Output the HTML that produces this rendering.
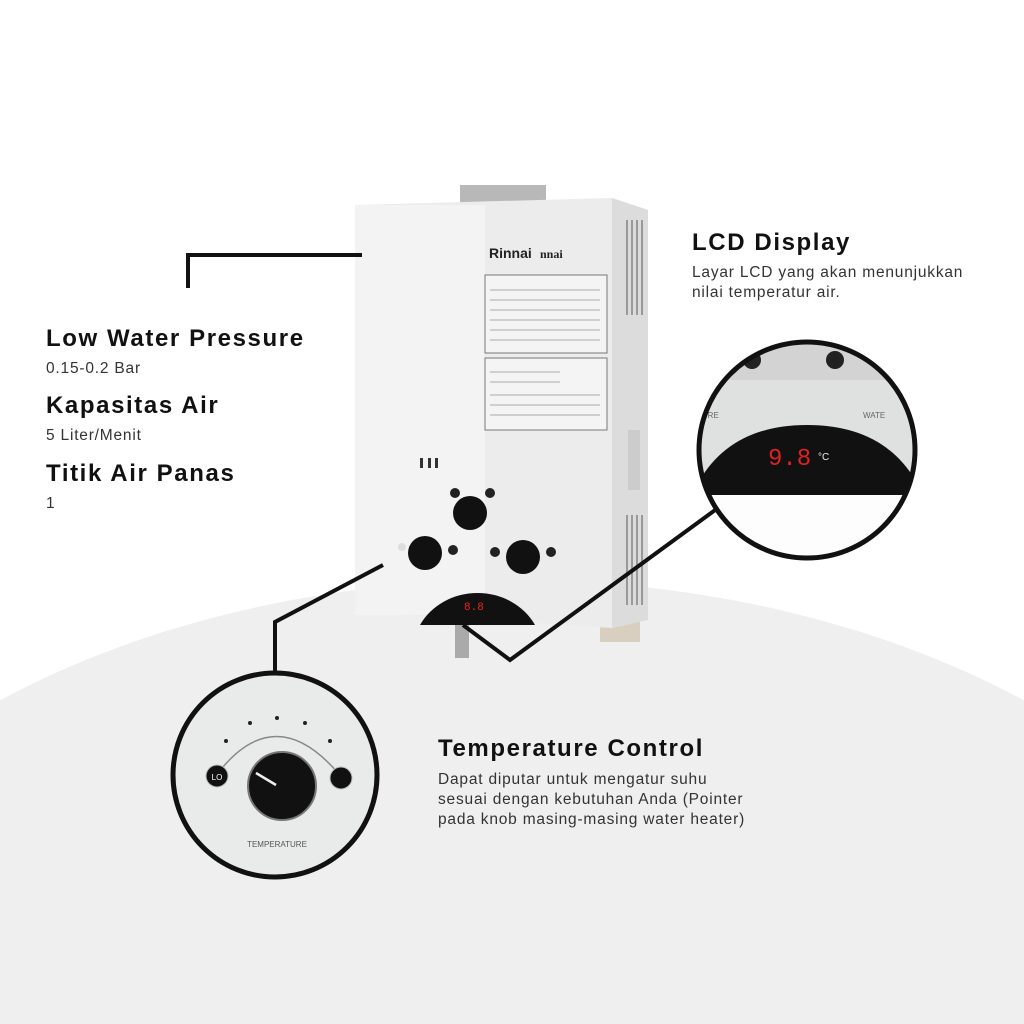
<!DOCTYPE html>
<html><head><meta charset="utf-8"><style>
html,body{margin:0;padding:0;width:1024px;height:1024px;overflow:hidden;background:#fff;font-family:"Liberation Sans",sans-serif}
.t{position:absolute;color:#111;white-space:nowrap}
.h{font-weight:900;font-size:24px;letter-spacing:1.6px}
.p{font-size:15.5px;color:#333;line-height:20px;letter-spacing:0.8px}
</style></head><body>
<svg width="1024" height="1024" style="position:absolute;left:0;top:0;display:block">
<defs>
<clipPath id="c1"><circle cx="275" cy="775" r="102"/></clipPath>
<clipPath id="c2"><circle cx="807" cy="450" r="108"/></clipPath>
</defs>
<ellipse cx="512" cy="1100" rx="800" ry="520" fill="#efefef"/>
<rect x="460" y="185" width="86" height="18" fill="#b8b8b8"/>
<rect x="600" y="600" width="40" height="42" fill="#d8cfc0"/>
<rect x="455" y="618" width="14" height="40" fill="#aaa"/>
<path d="M355 205 L612 198 L648 210 L648 620 L612 628 L355 612 Z" fill="#ececec"/>
<path d="M612 198 L648 210 L648 620 L612 628 Z" fill="#dcdcdc"/>
<rect x="355" y="205" width="130" height="410" fill="#f3f3f3"/>
<g fill="#999"><rect x="626" y="220" width="2" height="95"/><rect x="631" y="220" width="2" height="95"/><rect x="636" y="220" width="2" height="95"/><rect x="641" y="220" width="2" height="95"/>
<rect x="626" y="515" width="2" height="90"/><rect x="631" y="515" width="2" height="90"/><rect x="636" y="515" width="2" height="90"/><rect x="641" y="515" width="2" height="90"/></g>
<text x="489" y="258" font-family="Liberation Sans" font-weight="bold" font-size="14" fill="#222">Rinnai</text>
<text x="540" y="258" font-family="Liberation Serif" font-weight="bold" font-size="12" fill="#222">nnai</text>
<rect x="485" y="275" width="122" height="78" fill="#f4f4f4" stroke="#777"/>
<rect x="485" y="358" width="122" height="72" fill="#f4f4f4" stroke="#777"/>
<g stroke="#aaa" stroke-width="1">
<line x1="490" y1="290" x2="600" y2="290"/><line x1="490" y1="300" x2="600" y2="300"/><line x1="490" y1="310" x2="600" y2="310"/><line x1="490" y1="320" x2="600" y2="320"/><line x1="490" y1="330" x2="600" y2="330"/><line x1="490" y1="340" x2="600" y2="340"/>
<line x1="490" y1="372" x2="560" y2="372"/><line x1="490" y1="382" x2="560" y2="382"/><line x1="490" y1="395" x2="600" y2="395"/><line x1="490" y1="405" x2="600" y2="405"/><line x1="490" y1="415" x2="600" y2="415"/></g>
<rect x="628" y="430" width="12" height="60" fill="#ccc"/>
<g fill="#333"><rect x="420" y="458" width="3" height="10"/><rect x="428" y="458" width="3" height="10"/><rect x="435" y="458" width="3" height="10"/></g>
<circle cx="470" cy="513" r="17" fill="#111"/>
<circle cx="425" cy="553" r="17" fill="#111"/>
<circle cx="523" cy="557" r="17" fill="#111"/>
<circle cx="455" cy="493" r="5" fill="#222"/><circle cx="490" cy="493" r="5" fill="#222"/>
<circle cx="453" cy="550" r="5" fill="#222"/><circle cx="495" cy="552" r="5" fill="#222"/><circle cx="551" cy="552" r="5" fill="#222"/>
<circle cx="402" cy="547" r="4" fill="#ddd"/>
<path d="M420 625 A65 60 0 0 1 535 625 Z" fill="#111"/>
<text x="464" y="610" font-size="11" fill="#e22" font-family="Liberation Mono">8.8</text>
<g fill="none" stroke="#111" stroke-width="4">
<polyline points="188,288 188,255 362,255"/>
<polyline points="383,565 275,622 275,672"/>
<polyline points="463,625 510,660 722,505"/>
</g>
<g clip-path="url(#c1)">
<rect x="170" y="670" width="210" height="210" fill="#e9eaea"/>
<path d="M218 773 Q275 700 338 773" fill="none" stroke="#888" stroke-width="1.5"/>
<g fill="#222"><circle cx="226" cy="741" r="2"/><circle cx="250" cy="723" r="2"/><circle cx="277" cy="718" r="2"/><circle cx="305" cy="723" r="2"/><circle cx="330" cy="741" r="2"/></g>
<circle cx="217" cy="776" r="11" fill="#111" stroke="#bbb"/>
<circle cx="341" cy="778" r="11" fill="#111" stroke="#bbb"/>
<text x="217" y="780" font-size="8" fill="#fff" text-anchor="middle">LO</text>
<circle cx="282" cy="786" r="34" fill="#111" stroke="#777" stroke-width="2"/>
<line x1="256" y1="773" x2="276" y2="785" stroke="#eee" stroke-width="2.5"/>
<text x="277" y="847" font-size="8" fill="#555" text-anchor="middle">TEMPERATURE</text>
<path d="M320 880 Q340 850 380 850 L380 880 Z" fill="#111"/>
</g>
<circle cx="275" cy="775" r="102" fill="none" stroke="#111" stroke-width="5"/>
<g clip-path="url(#c2)">
<rect x="690" y="335" width="235" height="235" fill="#dfe0e0"/>
<rect x="690" y="335" width="235" height="45" fill="#d3d3d3"/>
<circle cx="752" cy="360" r="9" fill="#222"/><circle cx="835" cy="360" r="9" fill="#222"/>
<text x="697" y="418" font-size="8" fill="#666">TURE</text>
<text x="863" y="418" font-size="8" fill="#666">WATE</text>
<path d="M690 500 Q720 425 807 425 Q895 425 925 500 Z" fill="#111"/>
<rect x="690" y="495" width="235" height="75" fill="#fdfdfd"/>
<text x="768" y="465" font-family="Liberation Mono" font-size="24" fill="#d22">9.8</text>
<text x="818" y="460" font-size="10" fill="#eee">°C</text>
</g>
<circle cx="807" cy="450" r="108" fill="none" stroke="#111" stroke-width="5"/>
</svg>
<div class="t h" style="left:46px;top:325px">Low Water Pressure</div>
<div class="t p" style="left:46px;top:359px">0.15-0.2 Bar</div>
<div class="t h" style="left:46px;top:392px">Kapasitas Air</div>
<div class="t p" style="left:46px;top:426px">5 Liter/Menit</div>
<div class="t h" style="left:46px;top:460px">Titik Air Panas</div>
<div class="t p" style="left:46px;top:494px">1</div>
<div class="t h" style="left:692px;top:229px">LCD Display</div>
<div class="t p" style="left:692px;top:263px">Layar LCD yang akan menunjukkan<br>nilai temperatur air.</div>
<div class="t h" style="left:438px;top:735px">Temperature Control</div>
<div class="t p" style="left:438px;top:770px">Dapat diputar untuk mengatur suhu<br>sesuai dengan kebutuhan Anda (Pointer<br>pada knob masing-masing water heater)</div>
</body></html>
